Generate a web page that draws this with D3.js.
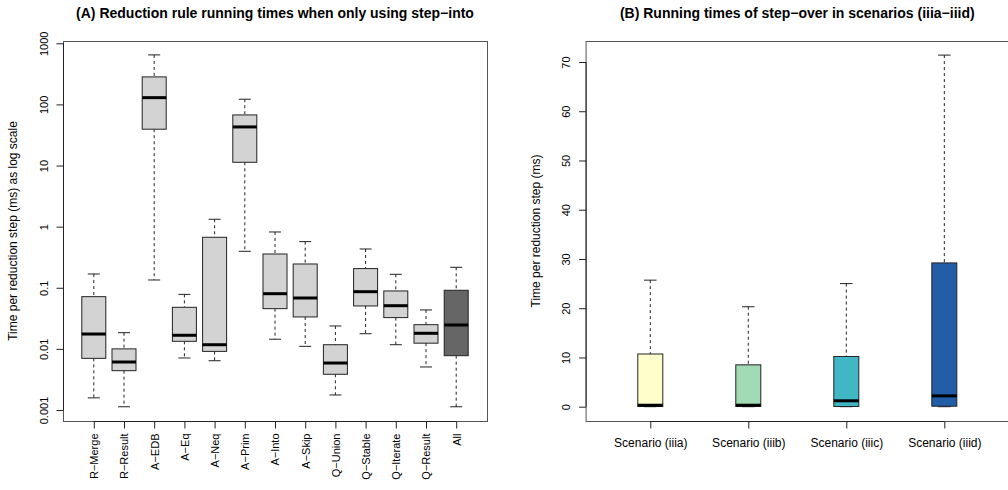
<!DOCTYPE html>
<html>
<head>
<meta charset="utf-8">
<script src="https://cdn.jsdelivr.net/npm/d3@7"></script>
<style>
  body { margin: 0; background: #fff; }
  svg text { font-family: "Liberation Sans", Arial, Helvetica, sans-serif; fill: #000; }
</style>
</head>
<body>
<div id="chart"></div>
<script>
// panel A: reduction rules (log scale, ms)
var ruleNames = ["R-Merge", "R-Result", "A-EDB", "A-Eq", "A-Neq", "A-Prim", "A-Into",
                 "A-Skip", "Q-Union", "Q-Stable", "Q-Iterate", "Q-Result", "All"];
var ruleMin = [0.00158, 0.00113, 0.134, 0.0071, 0.0064, 0.395, 0.0144, 0.011, 0.00176, 0.0177, 0.0117, 0.00506, 0.00113];
var ruleQ1  = [0.0070, 0.0044, 39.3, 0.0133, 0.0091, 11.3, 0.0455, 0.0333, 0.00384, 0.0504, 0.0325, 0.0124, 0.00774];
var ruleMed = [0.0175, 0.0061, 129, 0.0167, 0.0117, 42.8, 0.080, 0.068, 0.00587, 0.0863, 0.0509, 0.018, 0.0246];
var ruleQ3  = [0.0715, 0.0100, 282, 0.0479, 0.67, 67.3, 0.357, 0.245, 0.0117, 0.206, 0.0887, 0.0249, 0.091];
var ruleMax = [0.168, 0.0184, 646, 0.078, 1.32, 121.6, 0.818, 0.569, 0.0237, 0.431, 0.166, 0.0434, 0.216];
var ruleFill = ["#d3d3d3", "#d3d3d3", "#d3d3d3", "#d3d3d3", "#d3d3d3", "#d3d3d3", "#d3d3d3",
                "#d3d3d3", "#d3d3d3", "#d3d3d3", "#d3d3d3", "#d3d3d3", "#666666"];
var logTicks = [0.001, 0.01, 0.1, 1, 10, 100, 1000];

// panel B: step-over scenarios (ms)
var scenNames = ["Scenario (iiia)", "Scenario (iiib)", "Scenario (iiic)", "Scenario (iiid)"];
var scenMin = [0.0, 0.0, 0.0, 0.0];
var scenQ1  = [0.05, 0.05, 0.05, 0.1];
var scenMed = [0.3, 0.3, 1.2, 2.2];
var scenQ3  = [10.7, 8.5, 10.2, 29.2];
var scenMax = [25.7, 20.3, 25.0, 71.4];
var scenFill = ["#ffffcc", "#a1dab4", "#41b6c4", "#225ea8"];
var linTicks = [0, 10, 20, 30, 40, 50, 60, 70];

var W = 1008, H = 490;
var svg = d3.select("#chart").append("svg").attr("width", W).attr("height", H);

function drawPanel(opt) {
  var g = svg.append("g");
  var n = opt.names.length;
  var x = d3.scaleLinear().domain([0.5 - n * 0.04, n + 0.5 + n * 0.04]).range([opt.left, opt.right]);
  var y = opt.y;

  // boxes
  var items = opt.names.map(function (d, i) {
    return {name: d, min: opt.min[i], q1: opt.q1[i], med: opt.med[i], q3: opt.q3[i], max: opt.max[i], fill: opt.fill[i], pos: i + 1};
  });
  var box = g.selectAll(".box").data(items).enter().append("g").attr("class", "box");

  // whiskers (dashed)
  box.append("line")
    .attr("x1", function (d) { return x(d.pos); }).attr("x2", function (d) { return x(d.pos); })
    .attr("y1", function (d) { return y(d.max); }).attr("y2", function (d) { return y(d.q3); })
    .attr("stroke", "#222").attr("stroke-dasharray", "3,3");
  box.append("line")
    .attr("x1", function (d) { return x(d.pos); }).attr("x2", function (d) { return x(d.pos); })
    .attr("y1", function (d) { return y(d.q1); }).attr("y2", function (d) { return y(d.min); })
    .attr("stroke", "#222").attr("stroke-dasharray", "3,3");
  // caps
  ["max", "min"].forEach(function (k) {
    box.append("line")
      .attr("x1", function (d) { return x(d.pos) - opt.boxW / 4; })
      .attr("x2", function (d) { return x(d.pos) + opt.boxW / 4; })
      .attr("y1", function (d) { return y(d[k]); }).attr("y2", function (d) { return y(d[k]); })
      .attr("stroke", "#222");
  });
  box.append("rect")
    .attr("x", function (d) { return x(d.pos) - opt.boxW / 2; })
    .attr("width", opt.boxW)
    .attr("y", function (d) { return y(d.q3); })
    .attr("height", function (d) { return y(d.q1) - y(d.q3); })
    .attr("fill", function (d) { return d.fill; })
    .attr("stroke", "#222");
  box.append("line")
    .attr("x1", function (d) { return x(d.pos) - opt.boxW / 2; })
    .attr("x2", function (d) { return x(d.pos) + opt.boxW / 2; })
    .attr("y1", function (d) { return y(d.med); }).attr("y2", function (d) { return y(d.med); })
    .attr("stroke", "#000").attr("stroke-width", 3);

  // frame
  g.append("rect")
    .attr("x", opt.left + 0.5).attr("y", opt.top + 0.5)
    .attr("width", opt.right - opt.left).attr("height", opt.bottom - opt.top)
    .attr("fill", "none").attr("stroke", "#555");

  // y axis
  var yAxis = d3.axisLeft(y).tickValues(opt.ticks).tickSize(7).tickPadding(6)
    .tickFormat(opt.fmt);
  var ya = g.append("g").attr("transform", "translate(" + (opt.left + 0.5) + ",0)").call(yAxis);
  ya.select(".domain").attr("d", "M0," + y(opt.ticks[0]) + "V" + y(opt.ticks[opt.ticks.length - 1]))
    .attr("stroke", "#222");
  ya.selectAll(".tick line").attr("stroke", "#222");
  ya.selectAll(".tick text")
    .attr("font-size", 11)
    .attr("transform", "rotate(-90)")
    .attr("x", 0).attr("y", -16)
    .attr("dy", "0")
    .attr("text-anchor", "middle");

  // x axis
  var xAxis = d3.axisBottom(x).tickValues(d3.range(1, n + 1)).tickSize(7)
    .tickFormat(function (d) { return opt.names[d - 1]; });
  var xa = g.append("g").attr("transform", "translate(0," + (opt.bottom + 0.5) + ")").call(xAxis);
  xa.select(".domain").attr("d", "M" + x(1) + ",0H" + x(n)).attr("stroke", "#222");
  xa.selectAll(".tick line").attr("stroke", "#222");
  if (opt.rotateX) {
    xa.selectAll(".tick text")
      .attr("font-size", 11)
      .attr("transform", "rotate(-90)")
      .attr("x", -12).attr("y", 0).attr("dy", "0.35em")
      .attr("text-anchor", "end");
  } else {
    xa.selectAll(".tick text").attr("font-size", 12).attr("y", 17).attr("dy", "0.71em");
  }

  // y title
  g.append("text")
    .attr("transform", "translate(" + opt.ytitleX + "," + ((opt.top + opt.bottom) / 2) + ") rotate(-90)")
    .attr("text-anchor", "middle")
    .attr("font-size", 12)
    .text(opt.ytitle);

  // title
  g.append("text")
    .attr("x", (opt.left + opt.right) / 2).attr("y", 18)
    .attr("text-anchor", "middle")
    .attr("font-size", 14).attr("font-weight", "bold")
    .text(opt.title);
}

drawPanel({
  names: ruleNames, min: ruleMin, q1: ruleQ1, med: ruleMed, q3: ruleQ3, max: ruleMax, fill: ruleFill,
  left: 63, right: 487, top: 41, bottom: 421,
  y: d3.scaleLog().domain([0.001, 1000]).range([410, 43.3]),
  ticks: logTicks,
  fmt: function (d) { return d >= 1 ? String(d) : d3.format(".3~f")(d); },
  boxW: 24, rotateX: true,
  ytitle: "Time per reduction step (ms) as log scale", ytitleX: 17,
  title: "(A) Reduction rule running times when only using step\u2212into"
});

drawPanel({
  names: scenNames, min: scenMin, q1: scenQ1, med: scenMed, q3: scenQ3, max: scenMax, fill: scenFill,
  left: 585.6, right: 1009, top: 41, bottom: 421,
  y: d3.scaleLinear().domain([0, 70]).range([406.7, 62]),
  ticks: linTicks,
  fmt: function (d) { return String(d); },
  boxW: 25, rotateX: false,
  ytitle: "Time per reduction step (ms)", ytitleX: 540,
  title: "(B) Running times of step\u2212over in scenarios (iiia\u2212iiid)"
});

// use R-style minus sign in the labels
svg.selectAll(".tick text").text(function () { return d3.select(this).text().replace(/-/g, "\u2212"); });
</script>
</body>
</html>
